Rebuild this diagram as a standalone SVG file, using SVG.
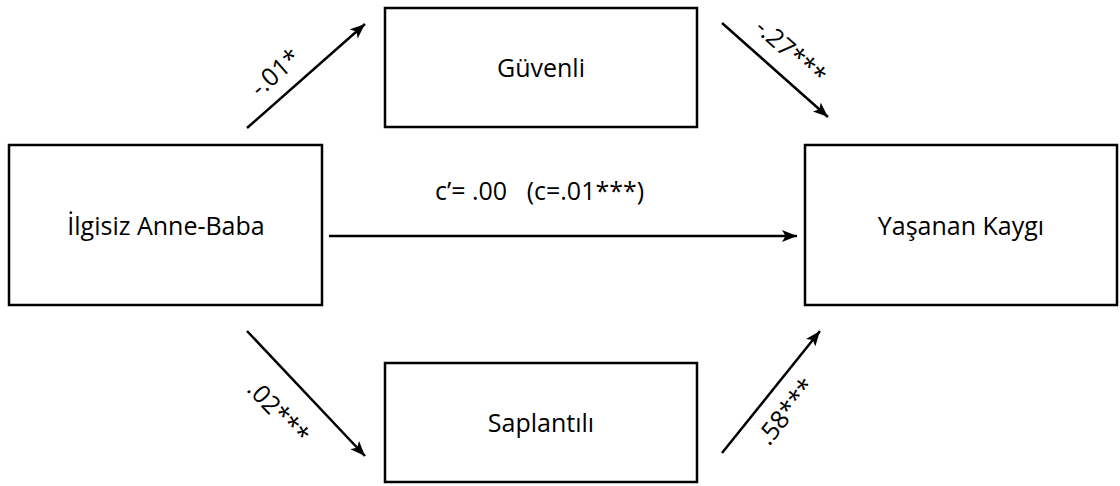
<svg xmlns="http://www.w3.org/2000/svg" width="1120" height="486" viewBox="0 0 1120 486">
<style>
.box{fill:#fff;stroke:#000;stroke-width:2.5}
.lbl{font-family:"Open Sans","Liberation Sans",sans-serif;font-size:25px;fill:#000;text-anchor:middle}
.edge{stroke:#000;stroke-width:2.5;fill:none;marker-end:url(#ah)}
.elbl{font-family:"Open Sans","Liberation Sans",sans-serif;font-size:25px;fill:#000;text-anchor:middle}
</style>
<defs>
<marker id="ah" markerUnits="userSpaceOnUse" markerWidth="16" markerHeight="12" refX="15" refY="6" orient="auto">
<path d="M0,0 L15,6 L0,12 L3.5,6 z" fill="#000"/>
</marker>
</defs>
<rect width="1120" height="486" fill="#fff"/>
<g id="node-ilgisiz">
<rect class="box" x="9" y="145" width="313" height="160"/>
<text class="lbl" x="166" y="235">İlgisiz Anne-Baba</text>
</g>
<g id="node-guvenli">
<rect class="box" x="385" y="8" width="312" height="119"/>
<text class="lbl" x="541" y="77">Güvenli</text>
</g>
<g id="node-saplantili">
<rect class="box" x="385" y="363" width="312" height="119"/>
<text class="lbl" x="541" y="432">Saplantılı</text>
</g>
<g id="node-kaygi">
<rect class="box" x="805" y="145" width="312" height="160"/>
<text class="lbl" x="961" y="235">Yaşanan Kaygı</text>
</g>
<g id="connectors">
<line class="edge" x1="247" y1="128" x2="365" y2="24"/>
<line class="edge" x1="722" y1="23" x2="828" y2="117"/>
<line class="edge" x1="247" y1="331" x2="365" y2="456"/>
<line class="edge" x1="722" y1="453" x2="820" y2="331"/>
<line class="edge" x1="329" y1="236" x2="797" y2="236"/>
<text class="elbl" transform="translate(281,79) rotate(-41.4)">-.01*</text>
<text class="elbl" transform="translate(785,58) rotate(41.6)">-.27***</text>
<text class="elbl" transform="translate(272,418) rotate(46.6)">.02***</text>
<text class="elbl" transform="translate(793,417) rotate(-51.2)">.58***</text>
<text class="elbl" x="435" y="200" style="text-anchor:start" xml:space="preserve">c’= .00   (c=.01***)</text>
</g>
</svg>
